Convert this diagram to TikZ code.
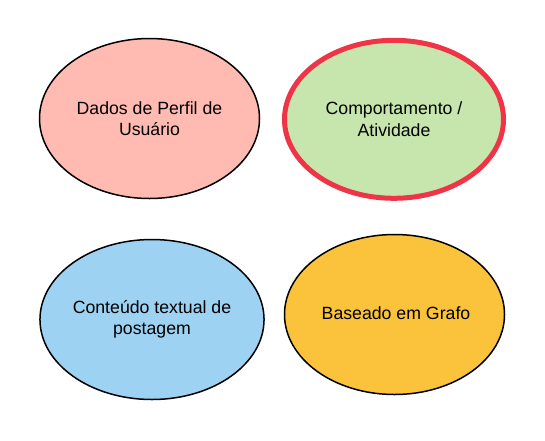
\documentclass[tikz,border=0pt]{standalone}
\usepackage{fontspec}
\setmainfont{Liberation Sans}
\usetikzlibrary{shapes.geometric}
\definecolor{cpink}{RGB}{255,187,177}
\definecolor{cgreen}{RGB}{199,230,174}
\definecolor{cblue}{RGB}{157,210,243}
\definecolor{corange}{RGB}{251,195,60}
\definecolor{cred}{RGB}{240,52,72}
\begin{document}
\begin{tikzpicture}[x=1pt,y=-1pt,
  blob/.style={ellipse, draw=black, line width=1.5pt, inner sep=0pt, outer sep=0pt,
    align=center, font=\fontsize{17.7}{21.5}\selectfont, text=black},
  hot/.style={blob, draw=cred, line width=5pt}]
\useasboundingbox (0,0) rectangle (545,440);
\node[blob, fill=cpink, minimum width=220pt, minimum height=160pt] (perfil) at (149.5,118.5) {Dados de Perfil de\\Usuário};
\node[hot, fill=cgreen, minimum width=219pt, minimum height=158pt] (comp) at (394,119.3) {Comportamento /\\Atividade};
\node[blob, fill=cblue, minimum width=215pt, minimum height=160pt] (texto) at (152,319.5) {Conteúdo textual de\\postagem};
\node[blob, fill=corange, minimum width=220pt, minimum height=160pt] (grafo) at (394.5,314.5) {};
\node[font=\fontsize{17.7}{21.5}\selectfont, inner sep=0pt] (grafotxt) at (396,313) {Baseado em Grafo};
\end{tikzpicture}
\end{document}
